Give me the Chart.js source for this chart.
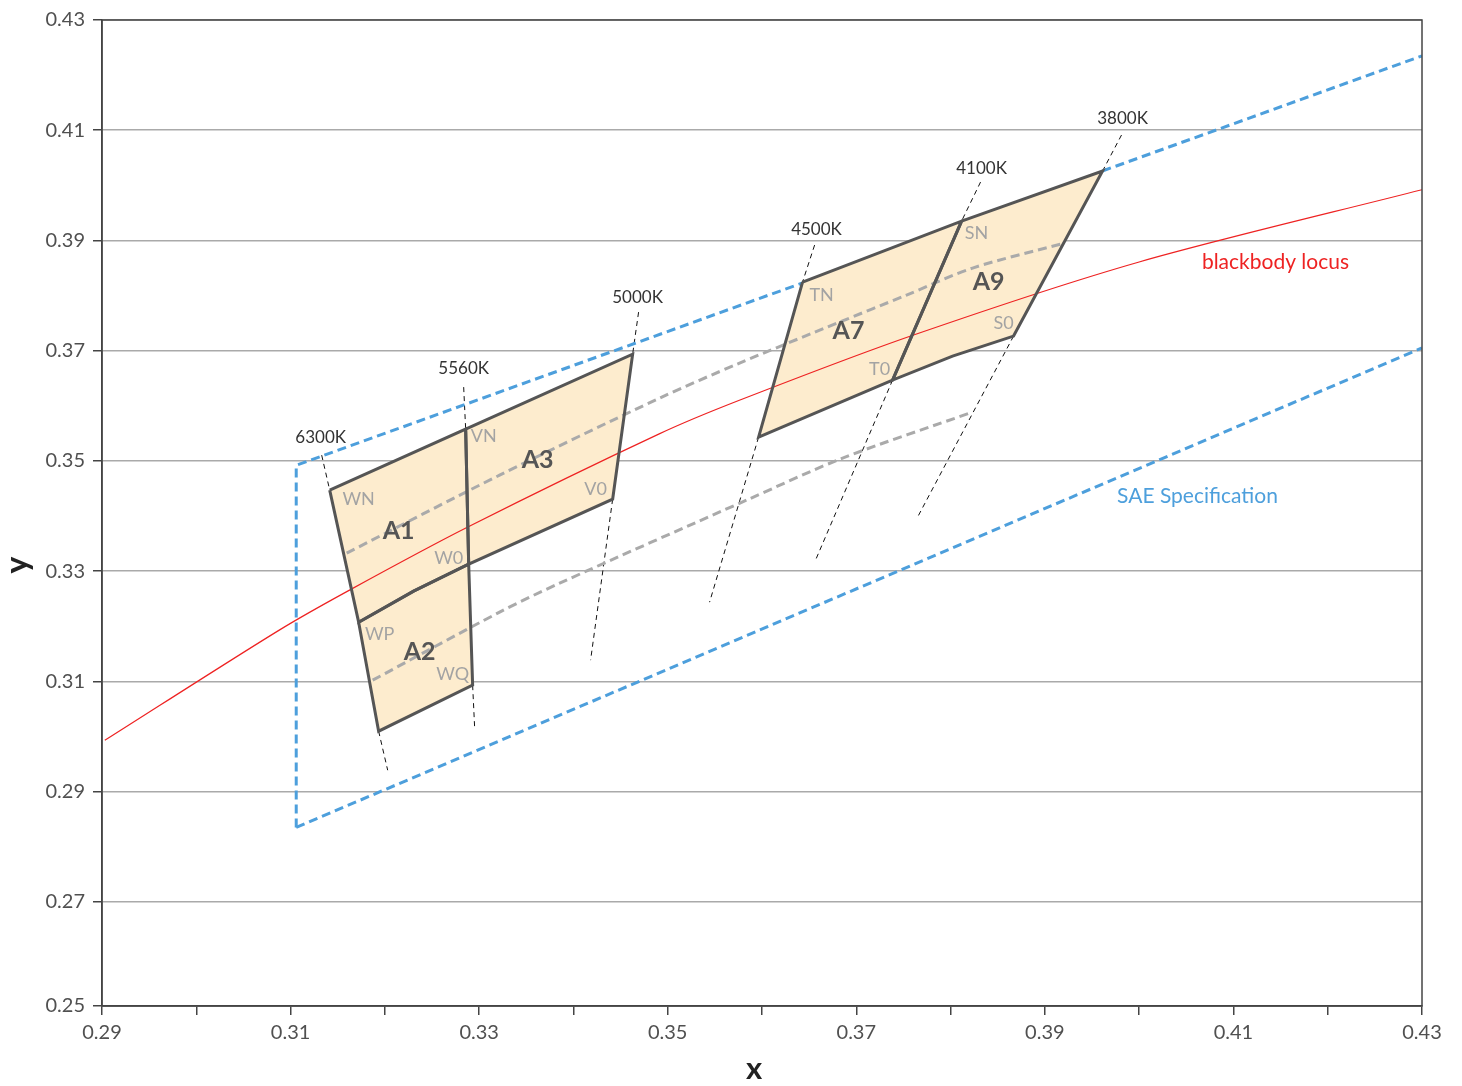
<!DOCTYPE html>
<html><head><meta charset="utf-8">
<script src="https://cdn.jsdelivr.net/npm/chart.js@4.4.1/dist/chart.umd.min.js"></script>
<style>html,body{margin:0;padding:0;background:#fff;} #wrap{width:1462px;height:1086px;position:relative;}</style>
</head><body><div id="wrap"><canvas id="c"></canvas></div>
<script>
// ---------- data (CIE x, y) ----------
const xTickValues = [0.29,0.30,0.31,0.32,0.33,0.34,0.35,0.36,0.37,0.38,0.39,0.40,0.41,0.42,0.43];
const xTickLabels = ['0.29','','0.31','','0.33','','0.35','','0.37','','0.39','','0.41','','0.43'];
const yTickValues = [0.2511,0.27,0.29,0.31,0.33,0.35,0.37,0.39,0.41,0.43];
const yTickLabels = ['0.25','0.27','0.29','0.31','0.33','0.35','0.37','0.39','0.41','0.43'];
const xAxisTitle = 'x';
const yAxisTitle = 'y';

// SAE specification boundary
const saeLeftX  = [0.3106, 0.3106, 0.3643];
const saeLeftY  = [0.2835, 0.3492, 0.3823];
const saeTopX   = [0.3961, 0.4300];
const saeTopY   = [0.4026, 0.4235];
const saeLowX   = [0.3106, 0.4300];
const saeLowY   = [0.2835, 0.3705];

// blackbody locus
const bbX = [0.2903, 0.3088, 0.3163, 0.3288, 0.3491, 0.3576, 0.3760, 0.4000, 0.4300];
const bbY = [0.2993, 0.3193, 0.3266, 0.3380, 0.3549, 0.3610, 0.3728, 0.3861, 0.3992];

// bins
const binA1X = [0.31415, 0.32857, 0.32889, 0.32305, 0.31722];
const binA1Y = [0.34470, 0.35577, 0.33127, 0.32637, 0.32074];
const binA2X = [0.31722, 0.32305, 0.32889, 0.32931, 0.31934];
const binA2Y = [0.32074, 0.32637, 0.33127, 0.30931, 0.30096];
const binA3X = [0.32857, 0.34628, 0.34416, 0.32889];
const binA3Y = [0.35577, 0.36938, 0.34307, 0.33127];
const binA7X = [0.36430, 0.38117, 0.37385, 0.35964];
const binA7Y = [0.38245, 0.39352, 0.36467, 0.35432];
const binA9X = [0.38117, 0.39612, 0.38668, 0.38021, 0.37385];
const binA9Y = [0.39352, 0.40260, 0.37265, 0.36902, 0.36467];

// grey dashed mid lines
const midUpX = [0.31595, 0.33217, 0.34914, 0.35762, 0.36823, 0.37533, 0.38233, 0.39209];
const midUpY = [0.33327, 0.34742, 0.36140, 0.36775, 0.37519, 0.38009, 0.38499, 0.38953];
const midLoX = [0.31871, 0.33217, 0.33854, 0.35837, 0.36855, 0.38233];
const midLoY = [0.31022, 0.32256, 0.32782, 0.34289, 0.35051, 0.35886];

// isotherm (CCT) lines: outer end -> bin corner, bin corner -> outer end
const cctNames = ['6300K','5560K','5000K','4500K','4100K','3800K'];
const cctTopEndX    = [0.31330, 0.32836, 0.34691, 0.36558, 0.38318, 0.39813];
const cctTopEndY    = [0.35105, 0.36339, 0.37700, 0.38917, 0.40060, 0.40913];
const cctTopCornerX = [0.31415, 0.32857, 0.34628, 0.36430, 0.38117, 0.39612];
const cctTopCornerY = [0.34470, 0.35577, 0.36938, 0.38245, 0.39352, 0.40260];
const cctLowCornerX = [0.31934, 0.32931, 0.34416, 0.35964, 0.37385, 0.38668];
const cctLowCornerY = [0.30096, 0.30931, 0.34307, 0.35432, 0.36467, 0.37265];
const cctLowEndX    = [0.32030, 0.32952, 0.34182, 0.35444, 0.36568, 0.37650];
const cctLowEndY    = [0.29388, 0.30169, 0.31385, 0.32437, 0.33200, 0.33980];
const cctLabelX = [0.31319, 0.32836, 0.34680, 0.36578, 0.38329, 0.39824];
const cctLabelY = [0.35432, 0.36684, 0.37973, 0.39207, 0.40314, 0.41221];

// corner labels
const cornerNames = ['WN','VN','W0','WP','WQ','V0','TN','SN','T0','S0'];
const cornerX = [0.31722, 0.33048, 0.32677, 0.31945, 0.32719, 0.34235, 0.36632, 0.38276, 0.37247, 0.38562];
const cornerY = [0.34307, 0.35450, 0.33236, 0.31857, 0.31131, 0.34488, 0.38009, 0.39134, 0.36666, 0.37501];

// bin labels
const binNames = ['A1','A2','A3','A7','A9'];
const binLabelX = [0.32146, 0.32369, 0.33620, 0.36918, 0.38403];
const binLabelY = [0.33726, 0.31530, 0.35015, 0.37356, 0.38245];

// curve labels
const curveNames = ['blackbody locus','SAE Specification'];
const curveLabelX = [0.41446, 0.40619];
const curveLabelY = [0.38608, 0.34361];

// ---------- helpers ----------
const pts = (xs, ys) => xs.map((x, i) => ({x, y: ys[i]}));
const closed = (xs, ys) => { const p = pts(xs, ys); p.push({...p[0]}); return p; };

const FONT = 'Lato, "Open Sans", "DejaVu Sans", sans-serif';
const FILL = '#fdecce';
const EDGE = '#555555';
const BLUE = '#4d9fdc';
const GREY = '#aaaaaa';
const RED  = '#ee2222';

const bins = [[binA1X,binA1Y],[binA2X,binA2Y],[binA3X,binA3Y],[binA7X,binA7Y],[binA9X,binA9Y]];
const datasets = [];
bins.forEach(([bx, by]) => datasets.push({
  data: closed(bx, by), showLine: true, fill: 'shape', backgroundColor: FILL,
  borderWidth: 0, borderColor: 'rgba(0,0,0,0)', pointRadius: 0, order: 20
}));
cctNames.forEach((n, i) => {
  [[cctTopEndX[i], cctTopEndY[i], cctTopCornerX[i], cctTopCornerY[i]],
   [cctLowCornerX[i], cctLowCornerY[i], cctLowEndX[i], cctLowEndY[i]]].forEach(([ax, ay, bx, by]) =>
    datasets.push({
      data: pts([ax, bx], [ay, by]), showLine: true, fill: false,
      borderColor: '#111', borderWidth: 1, borderDash: [5, 4], pointRadius: 0, order: 15
    }));
});
[[midUpX, midUpY], [midLoX, midLoY]].forEach(([mx, my]) => datasets.push({
  data: pts(mx, my), showLine: true, fill: false, borderColor: GREY, borderWidth: 3,
  borderDash: [9, 5], tension: 0.3, pointRadius: 0, order: 12
}));
datasets.push({
  data: pts(bbX, bbY), showLine: true, fill: false, borderColor: RED, borderWidth: 1.2,
  tension: 0.3, pointRadius: 0, order: 10
});
[[saeLeftX, saeLeftY], [saeTopX, saeTopY], [saeLowX, saeLowY]].forEach(([sx, sy]) => datasets.push({
  data: pts(sx, sy), showLine: true, fill: false, borderColor: BLUE, borderWidth: 3,
  borderDash: [9, 5], pointRadius: 0, order: 8
}));
bins.forEach(([bx, by]) => datasets.push({
  data: closed(bx, by), showLine: true, fill: false, borderColor: EDGE, borderWidth: 3,
  borderJoinStyle: 'miter', pointRadius: 0, order: 5
}));

const textPlugin = {
  id: 'texts',
  afterDraw(chart) {
    const {ctx, scales: {x, y}, chartArea: ca} = chart;
    ctx.save();
    ctx.strokeStyle = '#444'; ctx.lineWidth = 1.5;
    ctx.strokeRect(ca.left, ca.top, ca.right - ca.left, ca.bottom - ca.top);
    ctx.textAlign = 'center'; ctx.textBaseline = 'middle';
    ctx.font = '17px ' + FONT; ctx.fillStyle = '#333';
    cctNames.forEach((n, i) => ctx.fillText(n, x.getPixelForValue(cctLabelX[i]), y.getPixelForValue(cctLabelY[i])));
    ctx.font = '18px ' + FONT; ctx.fillStyle = '#a3a3a3';
    cornerNames.forEach((n, i) => ctx.fillText(n, x.getPixelForValue(cornerX[i]), y.getPixelForValue(cornerY[i])));
    ctx.font = 'bold 25px ' + FONT; ctx.fillStyle = '#555';
    binNames.forEach((n, i) => ctx.fillText(n, x.getPixelForValue(binLabelX[i]), y.getPixelForValue(binLabelY[i])));
    ctx.font = '21px ' + FONT;
    const cols = [RED, BLUE];
    curveNames.forEach((n, i) => { ctx.fillStyle = cols[i]; ctx.fillText(n, x.getPixelForValue(curveLabelX[i]), y.getPixelForValue(curveLabelY[i])); });
    // axis titles
    ctx.fillStyle = '#222';
    ctx.font = 'bold 31px ' + FONT;
    ctx.fillText(xAxisTitle, 754, 1069);
    ctx.translate(18, 565); ctx.rotate(-Math.PI / 2);
    ctx.font = 'bold 32px ' + FONT;
    ctx.fillText(yAxisTitle, 0, 0);
    ctx.restore();
  }
};

new Chart(document.getElementById('c'), {
  type: 'scatter',
  data: { datasets },
  options: {
    responsive: true, maintainAspectRatio: false, animation: false,
    layout: { padding: { left: 0, right: 40, top: 20, bottom: 0 } },
    plugins: { legend: { display: false }, tooltip: { enabled: false } },
    scales: {
      x: {
        type: 'linear', min: 0.29, max: 0.43,
        afterBuildTicks: s => { s.ticks = xTickValues.map(v => ({value: v})); },
        afterFit: s => { s.height = 80; },
        ticks: { autoSkip: false, maxRotation: 0, padding: 6, color: '#505050',
                 font: { family: FONT, size: 20 }, callback: (v, i) => xTickLabels[i] },
        grid: { drawOnChartArea: false, tickColor: '#444', tickLength: 9, lineWidth: 1.5 },
        border: { color: '#444', width: 1.5 },
        title: { display: false }
      },
      y: {
        type: 'linear', min: 0.2511, max: 0.43,
        afterBuildTicks: s => { s.ticks = yTickValues.map(v => ({value: v})); },
        afterFit: s => { s.width = 102; },
        ticks: { autoSkip: false, padding: 8, color: '#505050',
                 font: { family: FONT, size: 20 }, callback: (v, i) => yTickLabels[i] },
        grid: { color: '#aaaaaa', tickColor: '#444', tickLength: 9, lineWidth: 1.5 },
        border: { color: '#444', width: 1.5 },
        title: { display: false }
      }
    }
  },
  plugins: [textPlugin]
});
</script></body></html>
